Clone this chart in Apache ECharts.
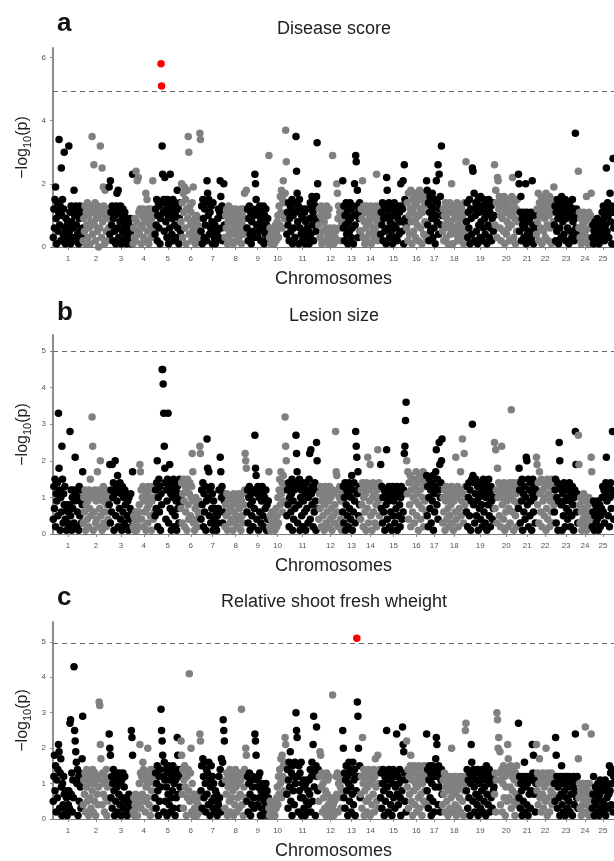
<!DOCTYPE html>
<html>
<head>
<meta charset="utf-8">
<script src="https://cdn.jsdelivr.net/npm/echarts@6/dist/echarts.min.js"></script>
<style>
  html, body { margin: 0; padding: 0; background: #fff; }
  #chart { width: 614px; height: 861px; }
</style>
</head>
<body>
<div id="chart"></div>
<script>
const chart = echarts.init(document.getElementById("chart"));

// chromosome names and relative lengths (as drawn on the x axis)
const chromNames = ["1","2","3","4","5","6","7","8","9","10","11","12","13","14","15","16","17","18","19","20","21","22","23","24","25"];
const chromLengths = [30,26,24,22,26,20,24,22,22,18,32,24,18,20,26,20,16,24,28,24,18,18,24,14,22];

// -log10(p) per marker, in tenths, one list per chromosome, markers in map order
const diseaseScore = [
    [3,12,6,15,19,9,1,14,5,11,34,7,13,2,25,10,15,4,12,30,6,1,9,3,7,2,8,32,5,11,1,13,8,3,12,6,18,10,2,13,7,11,4,12,1,9,13,5,10,3,12,6],
    [2,9,5,13,1,11,7,14,3,10,6,12,1,8,13,35,4,11,26,7,14,2,9,12,5,13,0,10,6,32,11,3,25,8,19,13,1,18,10,5,12,2,9,6],
    [19,4,21,11,7,13,2,9,12,5,10,1,13,17,6,18,3,11,8,13,1,10,5,12,2,7,11,4,8,1,6,9,3,7,2,9,5,1,6,23],
    [1,6,3,9,2,24,8,21,5,22,11,4,12,7,1,10,6,12,3,9,11,2,17,8,15,5,12,1,10,7,12,3,9,6,21,11,4,10],
    [4,12,7,15,2,10,14,6,13,1,9,58,51,32,23,11,15,5,22,14,8,12,3,15,10,1,13,6,23,11,14,4,9,15,2,12,7,14,10,3,13,18,6,12,1,9,14,5],
    [8,20,14,3,17,11,19,6,15,1,12,18,9,35,30,4,13,7,11,2,14,5,19,8,3,9,1,6,10,4,7,2,9,5,36,34],
    [5,13,1,15,9,3,12,7,14,2,21,17,10,15,4,11,6,13,8,1,14,5,3,7,1,6,2,5,9,12,3,11,21,16,6,13,2,10,20,7],
    [3,10,6,12,1,8,13,4,11,2,9,5,12,7,1,10,4,12,6,9,2,11,7,3,10,5,12,1,8,11,4,12,17,6,9,18],
    [6,12,2,9,13,4,11,1,8,12,5,10,3,23,20,15,7,12,3,10,5,13,8,2,11,6,9,13,1,10,4,12,7,2,9,5],
    [29,3,6,1,4,2,5,3,6,1,4,7,2,5,8,10,3,13,7,16,11,18,6,15,21,14,9,17,37,27],
    [4,11,7,14,2,9,13,5,12,15,1,10,6,14,3,11,35,24,17,8,13,1,15,6,12,4,10,2,9,12,5,11,1,8,12,3,6,2,5,1,9,14,4,12,16,7,11,2,15,9,13,5,16,33,20,8],
    [7,12,3,10,13,1,9,5,12,8,2,11,6,13,4,10,1,12,3,6,1,5,2,29,4,1,6,3,5,2,20,17,9,13,6,11,2,12,8,10],
    [21,6,13,2,10,7,14,4,11,1,8,12,5,14,9,3,12,6,13,1,10,20,7,29,27,13,18,3,11,9,14,5],
    [5,12,9,21,3,13,8,1,11,6,13,2,8,12,4,10,7,13,1,9,12,5,11,3,10,6,13,23,8,2,12,4,9,11],
    [4,11,7,14,2,9,13,5,12,1,22,18,10,6,14,3,8,12,5,13,1,10,7,14,3,11,6,12,2,9,13,4,11,8,20,13,5,12,21,1,26,15,9,7],
    [6,14,2,17,10,4,12,18,8,1,15,11,5,13,17,3,9,14,7,16,2,10,18,12,6,15,1,11,17,4,13,8,16,3],
    [21,18,7,14,2,11,16,5,13,9,17,3,12,6,15,1,10,21,8,14,26,4,23,12,16,7,32,10],
    [5,12,2,10,7,14,3,9,13,1,11,6,14,4,8,20,11,1,13,6,9,12,4,10,14,2,7,11,5,13,9,3,12,6,10,1,14,8,4,27],
    [8,14,3,11,6,15,1,12,9,4,25,24,12,17,2,10,14,5,13,1,15,7,11,3,16,8,13,2,12,6,15,9,4,10,14,1,12,7,15,3,11,6,13,2,9,14,5,10],
    [26,7,18,14,3,22,21,12,16,6,10,2,15,9,13,5,16,1,11,14,4,8,13,6,15,2,10,12,7,16,22,11,3,14,9,1,12,5,15,8],
    [23,20,5,11,16,2,9,7,11,3,10,6,20,1,11,4,8,10,2,9,5,11,3,21,7,1,10,6,11,4],
    [4,12,8,17,2,14,10,6,16,1,11,13,5,15,9,3,17,12,7,14,2,10,16,6,13,1,11,15,8,19],
    [7,13,2,11,5,15,9,1,12,6,14,3,16,10,8,13,4,11,15,2,9,12,6,14,1,10,13,5,11,3,15,8,12,2,9,36,6,12,4,10],
    [24,6,11,3,9,1,10,7,4,11,2,8,5,10,16,3,9,1,11,6,2,10,17,7],
    [3,7,1,5,8,2,6,4,9,3,7,1,5,8,2,6,11,4,13,9,2,12,7,25,5,14,10,3,12,17,8,13,1,11,28,6]
];

const lesionSize = [
    [4,13,7,15,2,11,9,14,5,33,18,12,1,10,6,24,15,3,11,8,13,4,8,1,7,3,6,2,8,28,5,12,1,10,7,12,3,9,21,11,2,12,6,10,1,13,5,9,12,3,8,17],
    [3,10,6,12,1,8,11,4,9,2,12,7,15,5,10,32,24,1,11,6,12,3,9,4,17,10,2,12,7,20,5,11,1,9,13,3,10,6,12,2,8,11,4,9],
    [8,19,3,12,6,19,10,14,1,11,20,5,13,9,16,2,12,7,14,4,11,1,13,6,10,3,12,8,2,11,5,9,1,10,4,7,11,2,6,17],
    [2,5,1,4,6,3,1,5,2,6,8,19,17,12,4,10,13,2,9,6,12,1,11,7,3,13,8,10,5,12,1,9,13,4,10,6],
    [5,12,7,14,20,2,10,15,6,13,1,11,8,45,45,41,33,24,18,14,4,12,9,15,33,3,13,19,7,11,1,14,6,10,15,2,12,5,14,9,1,13,7,11,3,15,8,10],
    [7,14,3,11,15,9,2,13,6,12,1,15,8,4,11,14,5,10,13,22,17,3,9,1,7,10,4,8,2,6,9,5,24,22],
    [4,12,8,14,2,11,6,13,1,9,26,18,10,17,5,12,3,13,7,11,1,9,4,7,2,6,1,5,3,7,12,6,21,17,10,13,3,11,6,9],
    [2,8,5,11,1,9,6,10,3,7,10,4,8,1,11,6,9,3,10,5,2,8,11,4,7,10,1,9,5,11,3,8,12,22,20,18],
    [6,12,3,10,13,1,8,11,5,9,2,12,7,27,18,16,4,11,13,1,10,6,12,3,9,13,5,11,2,10,7,12,1,8,4,9],
    [17,2,5,1,4,6,2,5,3,6,1,4,7,2,5,10,3,12,15,8,17,11,14,6,16,9,13,32,24,20],
    [5,12,8,14,2,10,13,6,11,15,1,9,4,12,7,14,27,22,17,3,13,8,15,1,10,12,5,14,2,9,13,6,11,1,14,7,12,3,10,15,22,4,23,11,8,13,2,12,6,14,9,1,25,20,13,7],
    [4,11,7,13,2,9,12,5,10,1,8,13,3,11,6,12,2,9,13,4,10,7,1,12,5,11,3,8,28,17,16,6,12,2,10,13,4,9,1,11],
    [6,13,3,10,14,1,8,12,5,11,2,14,7,13,4,10,16,1,12,6,14,9,3,28,24,21,11,17,5,13,8,12],
    [4,12,8,14,2,10,13,6,11,1,14,7,21,3,12,9,19,5,13,1,10,14,6,11,3,13,8,2,12,23,9,14,5,10],
    [19,7,13,3,10,6,12,1,11,8,23,4,12,9,13,2,10,6,11,1,13,5,9,12,3,10,7,13,1,11,5,12,8,2,10,13,4,11,6,12,22,24,31,36],
    [20,11,17,4,14,8,16,2,12,15,6,10,15,3,13,9,17,5,11,14,1,8,16,12,4,15,7,10,17,2,13,9,14,6],
    [16,5,13,2,10,15,7,12,3,14,9,16,1,11,6,13,17,23,8,15,4,12,25,19,10,14,20,26],
    [3,10,6,12,1,9,13,4,11,7,2,12,5,10,8,13,3,11,1,9,12,6,21,4,10,13,2,11,7,12,17,5,9,26,11,3,22,8,13,6],
    [6,13,2,10,14,5,12,1,9,15,30,16,8,14,3,11,15,5,9,13,1,10,7,14,4,12,8,2,11,15,6,13,3,10,14,1,12,8,15,5,11,2,13,9,4,12,7,10],
    [25,7,23,12,3,18,10,14,5,11,2,13,24,8,10,4,14,1,12,6,13,9,2,11,7,14,3,10,34,12,6,14,1,9,13,5,11,2,14,8],
    [7,18,12,3,14,9,15,1,11,6,13,4,10,21,20,8,15,2,12,5,14,9,1,11,15,6,10,13,3,12],
    [21,19,8,14,3,17,11,6,15,2,12,9,14,5,10,13,1,7,15,4,11,14,2,9,13,6,15,3,10,8],
    [6,12,15,3,10,14,1,9,25,20,13,8,12,1,11,5,14,9,2,13,7,10,4,12,6,14,9,2,11,5,13,8,1,10,12,28,19,6,11,3],
    [27,19,8,3,10,6,1,9,4,11,2,7,10,5,1,9,3,8,10,4,6,2,21,17],
    [2,6,9,1,5,8,3,7,4,9,1,6,8,2,5,7,10,13,6,12,3,11,14,21,9,12,5,13,2,10,14,7,12,28,11,4]
];

const shootWeight = [
    [5,12,18,8,15,2,11,6,14,21,19,3,13,17,9,1,10,4,12,7,3,8,2,6,1,7,4,8,3,27,28,7,13,2,11,6,43,25,22,19,16,10,14,1,12,5,13,9,3,11,17,29],
    [4,11,7,13,2,9,14,5,12,1,10,6,13,3,12,8,14,2,10,5,13,1,11,7,12,4,9,33,32,21,17,11,4,13,7,10,2,12,6,14,1,9,5,11],
    [24,20,18,6,12,3,10,14,8,1,11,5,13,9,2,12,7,13,4,10,1,11,6,13,3,9,12,5,2,6,1,5,3,7,2,6,4,25,23,18],
    [2,6,1,4,7,3,5,1,6,4,10,21,13,3,12,7,16,14,5,11,2,9,13,6,20,10,4,12,1,14,8,11,3,13,6,10],
    [6,13,3,10,15,8,1,12,5,14,9,31,25,22,18,12,2,16,11,5,14,9,1,13,7,15,4,11,2,14,6,12,8,15,3,10,13,1,11,6,14,23,18,7,12,3,9,14],
    [22,18,7,14,3,11,15,9,13,1,12,6,14,8,41,5,13,20,2,10,6,1,7,3,6,2,5,1,7,4,6,2,24,22],
    [8,15,3,17,12,6,16,10,2,14,7,13,4,16,11,1,9,15,5,12,3,10,6,2,8,3,7,1,5,4,12,6,14,2,17,10,16,28,25,22],
    [3,11,7,13,1,9,12,5,14,2,10,6,13,8,1,11,4,14,9,2,12,6,10,3,13,7,11,31,4,12,1,9,14,6,20,18],
    [5,12,2,10,13,7,1,11,4,9,12,6,3,24,22,18,11,4,9,12,6,13,1,8,3,10,1,7,5,9,2,10,4,8,1,6],
    [3,1,5,2,4,1,3,5,2,4,1,5,3,6,9,4,12,7,14,10,17,6,18,12,15,8,16,23,21,11],
    [7,14,3,11,16,9,19,5,13,1,15,8,12,4,16,10,30,25,23,12,2,15,8,13,6,16,1,10,6,11,3,9,1,10,5,11,2,8,4,11,7,14,2,12,16,5,21,29,9,13,1,15,26,12,8,14],
    [5,12,19,18,9,13,2,10,6,12,3,8,1,13,7,11,4,12,2,5,1,6,3,35,4,1,5,2,6,12,7,13,2,10,6,12,9,3,11,8],
    [25,20,6,13,3,11,15,8,12,1,10,16,5,14,9,2,13,7,16,4,11,14,1,12,8,51,33,29,20,12,15,6],
    [7,12,3,23,10,14,1,8,13,5,11,2,9,14,6,12,1,10,13,4,11,7,14,2,12,17,9,5,13,18,3,10,14,6],
    [6,13,3,10,14,8,1,12,5,11,25,9,13,2,14,7,11,4,12,1,10,14,6,13,3,9,12,24,7,12,4,10,14,6,1,11,8,26,21,19,13,5,11,2],
    [22,9,14,3,12,7,15,18,5,11,1,13,8,15,4,10,14,2,9,12,6,15,3,11,7,14,1,10,13,5,15,8,12,4],
    [24,8,14,3,11,15,6,13,1,10,15,5,12,2,14,9,17,23,21,12,4,15,9,13,2,11,14,7],
    [4,11,7,13,2,9,12,5,10,1,8,12,3,11,6,20,9,2,12,7,10,4,12,1,8,11,3,10,6,12,2,9,11,5,12,1,8,10,25,27],
    [8,14,3,11,6,13,1,10,21,16,12,5,14,9,2,13,7,11,4,14,1,10,6,13,3,12,8,14,2,11,5,9,13,1,15,7,12,4,10,14,2,13,6,11,3,12,8,9],
    [7,13,2,11,30,28,20,23,13,19,4,11,14,2,10,15,6,12,1,9,14,5,21,17,6,13,9,15,3,12,8,14,5,11,1,13,7,15,4,10],
    [27,6,12,3,10,8,1,12,5,11,16,2,9,12,4,10,1,11,7,12,3,8,11,21,13,18,7,11,2,10],
    [21,8,13,4,10,17,6,12,2,11,7,13,3,9,12,5,20,10,1,13,6,11,2,12,8,13,4,10,7,12],
    [10,5,23,18,12,3,9,11,6,1,12,7,15,4,10,2,12,8,1,11,6,12,3,9,5,12,2,10,7,11,1,9,12,4,8,24,10,6,12,3],
    [17,6,10,3,8,1,9,4,10,2,7,5,26,9,4,10,2,8,1,10,6,3,24,5],
    [3,7,12,1,5,9,4,8,2,10,6,1,7,11,3,9,5,10,2,8,4,11,1,9,6,10,3,7,15,8,13,4,14,10,2,12]
];

const panelLetters = ["a", "b", "c"];
const panelTitles = ["Disease score", "Lesion size", "Relative shoot fresh wheight"];
const thresholds = [4.92, 5.0, 4.95];
const yMaxes = [6.3, 5.44, 5.56];
const diseaseTicks = [0, 2, 4, 6];
const lesionTicks = [0, 1, 2, 3, 4, 5];
const shootTicks = [0, 1, 2, 3, 4, 5];

const FONT = "'Liberation Sans', Arial, Helvetica, sans-serif";

const chromStarts = [];
let total = 0;
chromLengths.forEach(len => {
    chromStarts.push(total);
    total += len;
});
const chromCenters = chromStarts.map((s, i) => s + chromLengths[i] / 2);

function buildPoints(panel) {
    const points = [];
    panel.forEach((values, c) => {
        values.forEach((v, i) => {
            const x = chromStarts[c] + (i + 0.5) / values.length * chromLengths[c];
            points.push([x, v / 10, c]);
        });
    });
    return points;
}

function chromLabel(v) {
    let best = 0;
    chromCenters.forEach((c, i) => {
        if (Math.abs(c - v) < Math.abs(chromCenters[best] - v)) best = i;
    });
    return chromNames[best];
}

const panelData = [diseaseScore, lesionSize, shootWeight];
const panelTicks = [diseaseTicks, lesionTicks, shootTicks];
const gridTops = [48, 335, 622];
const letterTops = [11, 300, 585];
const titleTops = [20, 307, 593];

const grids = [], xAxes = [], yAxes = [], series = [], graphics = [];

panelData.forEach((values, k) => {
    const thr = thresholds[k];

    grids.push({ left: 53, top: gridTops[k], width: total, height: 199 });

    xAxes.push({
        gridIndex: k,
        type: "value",
        min: 0,
        max: total,
        name: "Chromosomes",
        nameLocation: "middle",
        nameGap: 23,
        nameTextStyle: { fontSize: 18, color: "#222", fontFamily: FONT },
        axisLine: { show: true, lineStyle: { color: "#777", width: 1 } },
        axisTick: { show: true, customValues: chromCenters, length: 3, lineStyle: { color: "#888" } },
        axisLabel: { customValues: chromCenters, formatter: chromLabel, fontSize: 8, color: "#555", margin: 8, fontFamily: FONT },
        splitLine: { show: false }
    });

    yAxes.push({
        gridIndex: k,
        type: "value",
        min: 0,
        max: yMaxes[k],
        name: "{a|\u2212log}{b|10}{a|(p)}",
        nameLocation: "middle",
        nameRotate: 90,
        nameGap: 20,
        nameMoveOverlap: false,
        nameTextStyle: {
            rich: {
                a: { fontSize: 16, color: "#222", fontFamily: FONT, lineHeight: 20 },
                b: { fontSize: 11, color: "#222", fontFamily: FONT, lineHeight: 11, verticalAlign: "bottom" }
            }
        },
        axisLine: { show: true, lineStyle: { color: "#8c8c8c", width: 2 } },
        axisTick: { show: true, customValues: panelTicks[k], length: 3, lineStyle: { color: "#888" } },
        axisLabel: { customValues: panelTicks[k], fontSize: 8, color: "#555", margin: 7, fontFamily: FONT },
        splitLine: { show: false }
    });

    series.push({
        type: "scatter",
        xAxisIndex: k,
        yAxisIndex: k,
        symbolSize: 7.5,
        silent: true,
        progressive: 0,
        data: buildPoints(values),
        itemStyle: {
            opacity: 1,
            color: function (p) {
                if (p.value[1] >= thr) return "#ff0000";
                return p.value[2] % 2 === 0 ? "#000000" : "#808080";
            }
        },
        markLine: {
            silent: true,
            symbol: ["none", "none"],
            label: { show: false },
            lineStyle: { type: [5, 4], color: "#666", width: 1 },
            data: [{ yAxis: thr }]
        }
    });

    graphics.push({
        type: "text",
        left: 57,
        top: letterTops[k],
        style: { text: panelLetters[k], font: "bold 26px " + FONT, fill: "#111" }
    });
    graphics.push({
        type: "text",
        x: 334,
        y: titleTops[k],
        style: { text: panelTitles[k], font: "18px " + FONT, fill: "#222", textAlign: "center", textVerticalAlign: "top" }
    });
});

chart.setOption({
    animation: false,
    backgroundColor: "#ffffff",
    grid: grids,
    xAxis: xAxes,
    yAxis: yAxes,
    series: series,
    graphic: graphics
});

window.addEventListener("resize", () => chart.resize());
</script>
</body>
</html>
